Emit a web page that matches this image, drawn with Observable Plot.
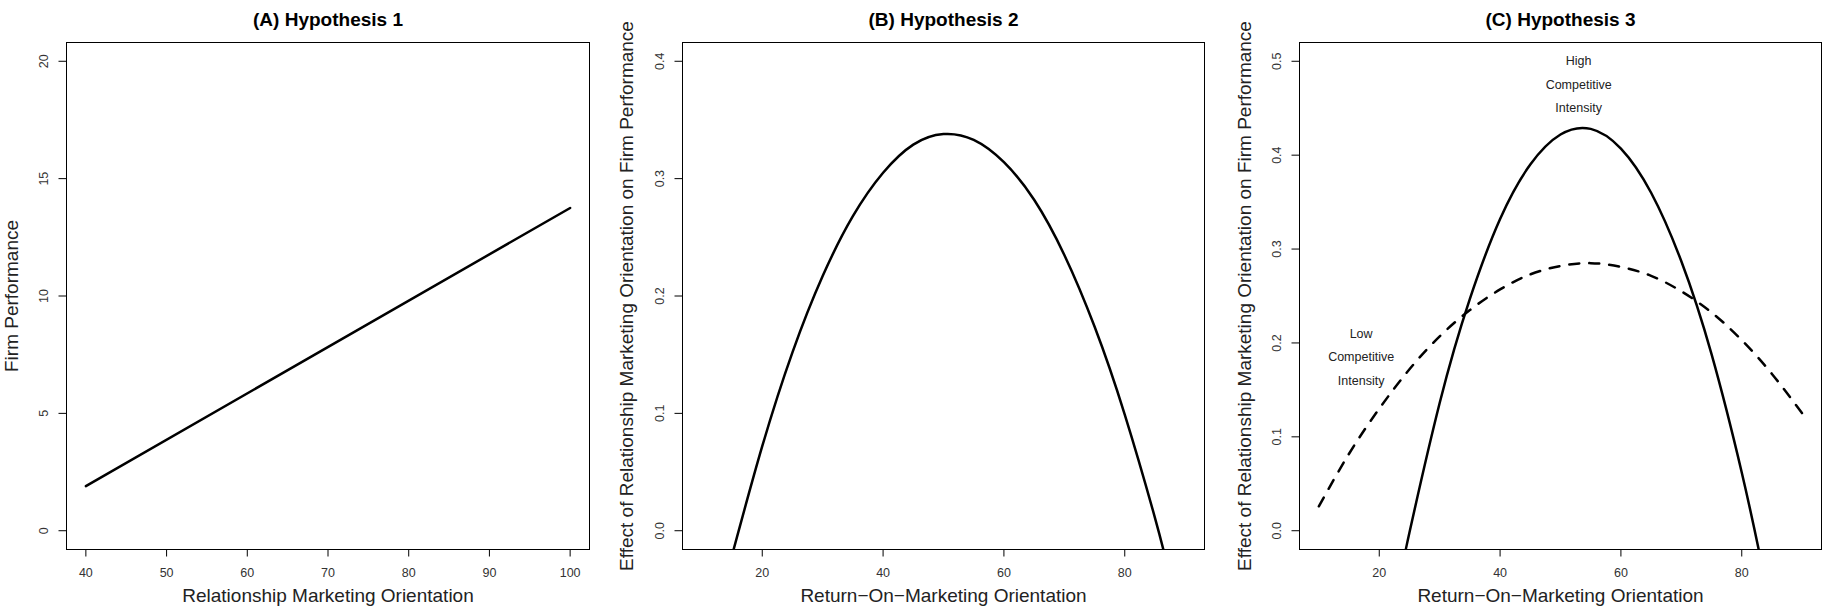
<!DOCTYPE html>
<html>
<head>
<meta charset="utf-8">
<script src="https://cdn.jsdelivr.net/npm/d3@7"></script>
<script src="https://cdn.jsdelivr.net/npm/@observablehq/plot@0.6"></script>
<style>
  html, body { margin: 0; padding: 0; background: white; overflow: hidden; }
  #wrap { position: relative; width: 1822px; height: 616px; overflow: hidden; background: white; }
  #wrap svg { position: absolute; top: 0; }
</style>
</head>
<body>
<div id="wrap"></div>
<script>
// ---------- Panel A data ----------
const titleA = "(A) Hypothesis 1";
const xLabelA = "Relationship Marketing Orientation";
const yLabelA = "Firm Performance";
const xA = [40, 100];
const yA = [1.9, 13.75];
const xTicksA = [40, 50, 60, 70, 80, 90, 100];
const xTickLabelsA = ["40", "50", "60", "70", "80", "90", "100"];
const yTicksA = [0, 5, 10, 15, 20];
const yTickLabelsA = ["0", "5", "10", "15", "20"];

// ---------- Panel B data ----------
const titleB = "(B) Hypothesis 2";
const xLabelB = "Return\u2212On\u2212Marketing Orientation";
const yLabelB = "Effect of Relationship Marketing Orientation on Firm Performance";
const xB = [15, 20, 25, 30, 35, 40, 45, 50, 55, 60, 65, 70, 75, 80, 85, 87];
const yB = [-0.021, 0.072, 0.152, 0.217, 0.268, 0.305, 0.329, 0.338, 0.333, 0.314, 0.282, 0.235, 0.174, 0.099, 0.011, -0.029];
const xTicksB = [20, 40, 60, 80];
const xTickLabelsB = ["20", "40", "60", "80"];
const yTicksB = [0, 0.1, 0.2, 0.3, 0.4];
const yTickLabelsB = ["0.0", "0.1", "0.2", "0.3", "0.4"];

// ---------- Panel C data ----------
const titleC = "(C) Hypothesis 3";
const xLabelC = "Return\u2212On\u2212Marketing Orientation";
const yLabelC = "Effect of Relationship Marketing Orientation on Firm Performance";
const xHigh = [24, 25, 30, 35, 40, 45, 50, 55, 60, 65, 70, 75, 80, 83];
const yHigh = [-0.033, -0.002, 0.136, 0.247, 0.332, 0.390, 0.422, 0.428, 0.407, 0.360, 0.287, 0.188, 0.062, -0.026];
const xLow = [10, 15, 20, 25, 30, 35, 40, 45, 50, 55, 60, 65, 70, 75, 80, 85, 90];
const yLow = [0.026, 0.082, 0.130, 0.172, 0.207, 0.235, 0.257, 0.273, 0.282, 0.285, 0.281, 0.2715, 0.255, 0.2325, 0.203, 0.167, 0.125];
const xTicksC = [20, 40, 60, 80];
const xTickLabelsC = ["20", "40", "60", "80"];
const yTicksC = [0, 0.1, 0.2, 0.3, 0.4, 0.5];
const yTickLabelsC = ["0.0", "0.1", "0.2", "0.3", "0.4", "0.5"];
const highLabel = ["High", "Competitive", "Intensity"];
const highLabelX = 53;
const highLabelY = [0.5, 0.475, 0.45];
const lowLabel = ["Low", "Competitive", "Intensity"];
const lowLabelX = 17;
const lowLabelY = [0.21, 0.185, 0.16];

// ---------- drawing ----------
const FONT = "'Liberation Sans', Arial, Helvetica, sans-serif";

function panel(o) {
  const fmt = (ticks, labels) => d => labels[ticks.indexOf(d)];
  const svg = Plot.plot({
    width: o.width,
    height: 616,
    marginLeft: 66,
    marginRight: o.marginRight,
    marginTop: 42,
    marginBottom: 67,
    style: { fontFamily: FONT, background: "white", color: "black", overflow: "visible" },
    x: { domain: o.xDomain },
    y: { domain: o.yDomain },
    marks: [
      Plot.axisX(o.xTicks, {
        tickSize: 7.5, tickPadding: 11.5, fontSize: 12.5,
        tickFormat: fmt(o.xTicks, o.xTickLabels), fill: "#333", stroke: "black", label: null
      }),
      Plot.axisY(o.yTicks, {
        tickSize: 7.5, tickPadding: 11, tickRotate: -90, fontSize: 12.5,
        tickFormat: fmt(o.yTicks, o.yTickLabels), fill: "#333", stroke: "black", label: null
      }),
      ...o.marks,
      Plot.frame({ stroke: "black", strokeWidth: 1 }),
      Plot.text([o.title], { text: d => d, frameAnchor: "top", dy: -30, fontSize: 19, fontWeight: "bold", fill: "black" }),
      Plot.text([o.xLabel], { text: d => d, frameAnchor: "bottom", dy: 52, fontSize: 19, fill: "#222" }),
      Plot.text([o.yLabel], { text: d => d, frameAnchor: "left", textAnchor: "middle", dx: o.yLabelDx, rotate: -90, fontSize: 19, fill: "#222" })
    ]
  });
  svg.style.left = o.left + "px";
  return svg;
}

const wrap = document.getElementById("wrap");

wrap.appendChild(panel({
  left: 0, width: 616, marginRight: 27,
  xDomain: [37.6, 102.4], yDomain: [-0.8, 20.8],
  xTicks: xTicksA, xTickLabels: xTickLabelsA, yTicks: yTicksA, yTickLabels: yTickLabelsA,
  title: titleA, xLabel: xLabelA, yLabel: yLabelA, yLabelDx: -55,
  marks: [
    Plot.line(xA, { x: xA, y: yA, stroke: "black", strokeWidth: 2.5 })
  ]
}));

wrap.appendChild(panel({
  left: 616, width: 616, marginRight: 28,
  xDomain: [6.8, 93.2], yDomain: [-0.016, 0.416],
  xTicks: xTicksB, xTickLabels: xTickLabelsB, yTicks: yTicksB, yTickLabels: yTickLabelsB,
  title: titleB, xLabel: xLabelB, yLabel: yLabelB, yLabelDx: -56,
  marks: [
    Plot.line(xB, { x: xB, y: yB, stroke: "black", strokeWidth: 2.5, curve: "natural", clip: true })
  ]
}));

wrap.appendChild(panel({
  left: 1233, width: 589, marginRight: 1,
  xDomain: [6.8, 93.2], yDomain: [-0.02, 0.52],
  xTicks: xTicksC, xTickLabels: xTickLabelsC, yTicks: yTicksC, yTickLabels: yTickLabelsC,
  title: titleC, xLabel: xLabelC, yLabel: yLabelC, yLabelDx: -55,
  marks: [
    Plot.line(xLow, { x: xLow, y: yLow, stroke: "black", strokeWidth: 2.5, curve: "natural", strokeDasharray: "10,10", clip: true }),
    Plot.line(xHigh, { x: xHigh, y: yHigh, stroke: "black", strokeWidth: 2.5, curve: "natural", clip: true }),
    Plot.text(highLabel, { text: d => d, x: highLabel.map(() => highLabelX), y: highLabelY, fontSize: 12.5, fill: "#222" }),
    Plot.text(lowLabel, { text: d => d, x: lowLabel.map(() => lowLabelX), y: lowLabelY, fontSize: 12.5, fill: "#222" })
  ]
}));
</script>
</body>
</html>
